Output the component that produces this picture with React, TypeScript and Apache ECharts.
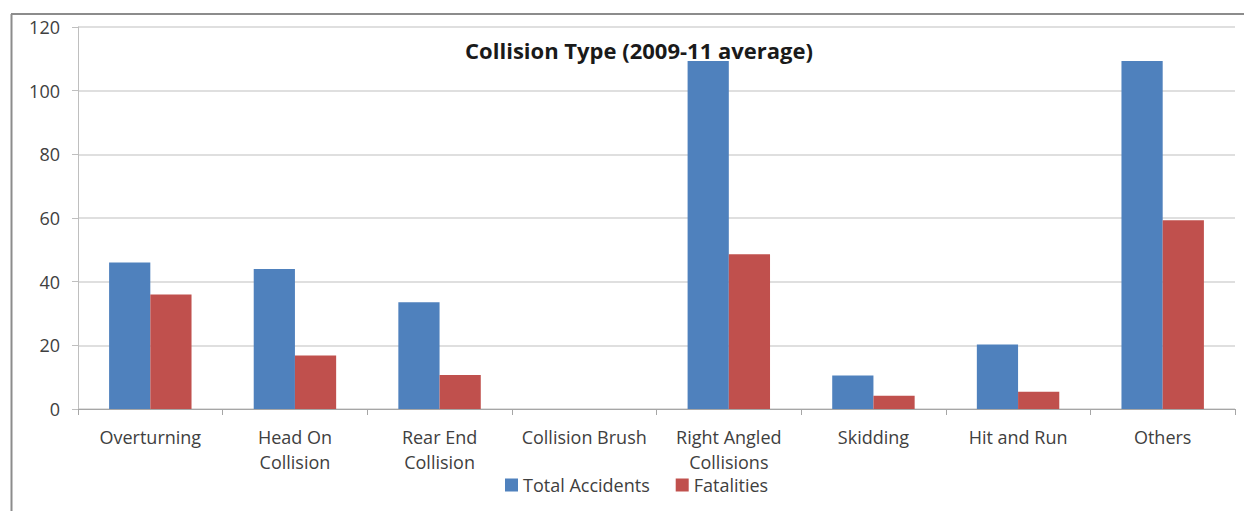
import React, { useEffect, useRef } from "react";
import * as echarts from "echarts";

const categories = [
  "Overturning",
  "Head On\nCollision",
  "Rear End\nCollision",
  "Collision Brush",
  "Right Angled\nCollisions",
  "Skidding",
  "Hit and Run",
  "Others",
];
const totalAccidents = [46, 44, 33.5, 0, 109.3, 10.5, 20.3, 109.3];
const fatalities = [36, 16.8, 10.7, 0, 48.6, 4.2, 5.4, 59.3];
const yTicks = [0, 20, 40, 60, 80, 100, 120];

const FONT = "'Open Sans', 'Noto Sans', sans-serif";

export default function App() {
  const ref = useRef<HTMLDivElement>(null);
  useEffect(() => {
    if (!ref.current) return;
    const chart = echarts.init(ref.current, undefined, { renderer: "svg" });
    chart.setOption({
      animation: false,
      backgroundColor: "#ffffff",
      textStyle: { fontFamily: FONT },
      title: {
        text: "Collision Type (2009-11 average)",
        left: 634,
        top: 34,
        textAlign: "center",
        textStyle: { fontFamily: FONT, fontSize: 22, fontWeight: "bold", color: "#1a1a1a" },
      },
      legend: {
        data: ["Total Accidents", "Fatalities"],
        left: 500,
        bottom: 12,
        itemWidth: 13,
        itemHeight: 13,
        itemGap: 26,
        icon: "rect",
        textStyle: { fontFamily: FONT, fontSize: 18, color: "#404040" },
      },
      grid: { left: 78, right: 9, top: 27, bottom: 102, containLabel: false },
      xAxis: {
        type: "category",
        data: categories,
        axisLine: { lineStyle: { color: "#a6a6a6", width: 1 } },
        axisTick: { show: true, alignWithLabel: false, length: 6, lineStyle: { color: "#a6a6a6" } },
        axisLabel: {
          interval: 0,
          margin: 15,
          fontFamily: FONT,
          fontSize: 18,
          lineHeight: 25,
          color: "#404040",
          verticalAlign: "top",
        },
      },
      yAxis: {
        type: "value",
        min: yTicks[0],
        max: yTicks[yTicks.length - 1],
        interval: 20,
        axisLine: { show: true, lineStyle: { color: "#bfbfbf", width: 1 } },
        axisTick: { show: true, length: 6, lineStyle: { color: "#bfbfbf" } },
        axisLabel: { fontFamily: FONT, fontSize: 18, color: "#404040", margin: 18 },
        splitLine: { lineStyle: { color: "#d4d4d4", width: 1.5 } },
      },
      series: [
        {
          name: "Total Accidents",
          type: "bar",
          data: totalAccidents,
          barGap: "0%",
          barCategoryGap: "43%",
          itemStyle: { color: "#4F81BD" },
        },
        {
          name: "Fatalities",
          type: "bar",
          data: fatalities,
          barGap: "0%",
          barCategoryGap: "43%",
          itemStyle: { color: "#C0504D" },
        },
      ],
      graphic: [
        {
          type: "line",
          shape: { x1: 11.5, y1: 14, x2: 11.5, y2: 511 },
          style: { stroke: "#8c8c8c", lineWidth: 2 },
        },
        {
          type: "line",
          shape: { x1: 11, y1: 14, x2: 1244, y2: 14 },
          style: { stroke: "#8c8c8c", lineWidth: 2 },
        },
      ],
    });
    return () => chart.dispose();
  }, []);
  return (
    <div
      ref={ref}
      style={{ position: "fixed", left: 0, top: 0, width: 1244, height: 511 }}
    />
  );
}
